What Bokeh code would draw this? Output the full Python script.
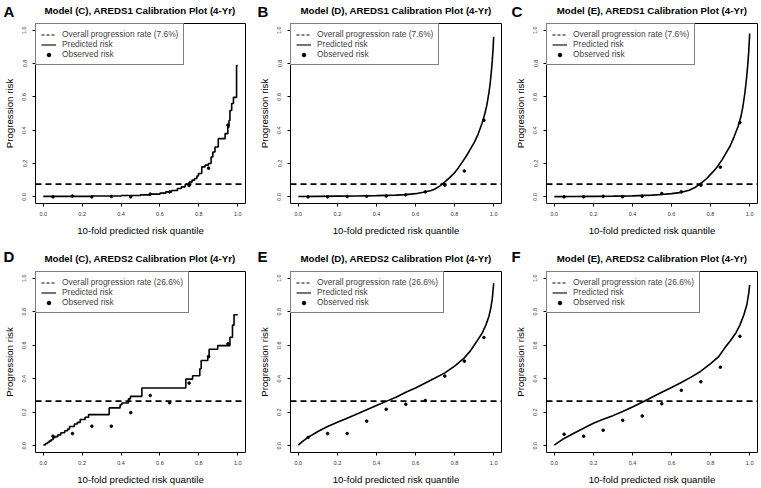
from bokeh.plotting import figure
from bokeh.layouts import column, row
from bokeh.models import Span, Legend, LegendItem, FixedTicker, NumeralTickFormatter
from bokeh.core.properties import value
from bokeh.embed import file_html
from bokeh.resources import INLINE

FONT = "Liberation Sans"
NAN = float("nan")

# ---------------- data ----------------
tick_vals = [0.0, 0.2, 0.4, 0.6, 0.8, 1.0]
tick_labels = ["0.0", "0.2", "0.4", "0.6", "0.8", "1.0"]
deciles = [0.05, 0.15, 0.25, 0.35, 0.45, 0.55, 0.65, 0.75, 0.85, 0.95]

letters = ["A", "B", "C", "D", "E", "F"]
titles = [
    "Model (C), AREDS1 Calibration Plot (4-Yr)",
    "Model (D), AREDS1 Calibration Plot (4-Yr)",
    "Model (E), AREDS1 Calibration Plot (4-Yr)",
    "Model (C), AREDS2 Calibration Plot (4-Yr)",
    "Model (D), AREDS2 Calibration Plot (4-Yr)",
    "Model (E), AREDS2 Calibration Plot (4-Yr)",
]
overall_rate = [0.076, 0.076, 0.076, 0.266, 0.266, 0.266]
rate_labels = ["Overall progression rate (7.6%)"] * 3 + ["Overall progression rate (26.6%)"] * 3

# Panel A: Model (C), AREDS1 - step function
a_step_x = [0.00, 0.25, 0.40, 0.50, 0.55, 0.60, 0.63, 0.66, 0.69, 0.71, 0.73, 0.75, 0.765, 0.778,
            0.79, 0.798, 0.815, 0.832, 0.849, 0.863, 0.872, 0.883, 0.90, 0.935, 0.949, 0.955, 0.960,
            0.969, 0.978, 0.994, 1.0]
a_step_y = [0.003, 0.005, 0.008, 0.012, 0.016, 0.022, 0.030, 0.038, 0.050, 0.060, 0.075, 0.088, 0.100, 0.110,
            0.125, 0.140, 0.180, 0.190, 0.200, 0.239, 0.269, 0.299, 0.349, 0.379, 0.418, 0.458, 0.518,
            0.560, 0.597, 0.787, 0.787]
a_obs = [0.000, 0.005, 0.000, 0.002, 0.000, 0.016, 0.030, 0.068, 0.172, 0.430]

# Panel B: Model (D), AREDS1 - smooth curve
b_x = [0.0, 0.1, 0.2, 0.3, 0.4, 0.5, 0.55, 0.6, 0.64, 0.68, 0.70, 0.725, 0.75, 0.775, 0.80, 0.82, 0.84,
       0.86, 0.88, 0.90, 0.92, 0.94, 0.955, 0.965, 0.975, 0.982, 0.988, 0.993, 0.997, 1.0]
b_y = [0.002, 0.003, 0.004, 0.005, 0.007, 0.010, 0.013, 0.019, 0.027, 0.038, 0.047, 0.066, 0.090, 0.115,
       0.145, 0.175, 0.210, 0.245, 0.285, 0.325, 0.375, 0.440, 0.500, 0.550, 0.620, 0.680, 0.750, 0.820,
       0.890, 0.960]
b_obs = [0.000, 0.000, 0.002, 0.003, 0.005, 0.012, 0.030, 0.070, 0.155, 0.460]

# Panel C: Model (E), AREDS1 - smooth curve
c_x = [0.0, 0.1, 0.2, 0.3, 0.4, 0.5, 0.55, 0.6, 0.65, 0.69, 0.72, 0.74, 0.76, 0.78, 0.80, 0.82, 0.84,
       0.86, 0.88, 0.90, 0.92, 0.94, 0.955, 0.965, 0.975, 0.983, 0.99, 0.995, 1.0]
c_y = [0.001, 0.002, 0.003, 0.004, 0.006, 0.010, 0.014, 0.019, 0.027, 0.040, 0.056, 0.073, 0.090, 0.110,
       0.135, 0.160, 0.190, 0.225, 0.265, 0.305, 0.360, 0.420, 0.480, 0.540, 0.620, 0.700, 0.790, 0.870,
       0.980]
c_obs = [0.000, 0.000, 0.003, 0.001, 0.004, 0.020, 0.030, 0.070, 0.178, 0.445]

# Panel D: Model (C), AREDS2 - step function
d_step_x = [0.00, 0.01, 0.02, 0.03, 0.04, 0.05, 0.06, 0.075, 0.09, 0.11, 0.125, 0.135, 0.16, 0.175, 0.19,
            0.215, 0.233, 0.339, 0.395, 0.404, 0.438, 0.448, 0.507, 0.733, 0.768, 0.805, 0.812, 0.846,
            0.853, 0.897, 0.960, 0.973, 0.981, 1.0]
d_step_y = [0.005, 0.012, 0.020, 0.028, 0.036, 0.048, 0.055, 0.065, 0.078, 0.090, 0.100, 0.115, 0.130, 0.140,
            0.157, 0.170, 0.186, 0.226, 0.245, 0.255, 0.280, 0.295, 0.345, 0.398, 0.418, 0.460, 0.509, 0.532,
            0.576, 0.598, 0.648, 0.720, 0.782, 0.782]
d_obs = [0.057, 0.073, 0.117, 0.117, 0.198, 0.300, 0.257, 0.374, 0.533, 0.608]

# Panel E: Model (D), AREDS2 - smooth curve
e_x = [0.0, 0.02, 0.05, 0.1, 0.15, 0.2, 0.25, 0.3, 0.35, 0.4, 0.45, 0.5, 0.55, 0.6, 0.65, 0.7, 0.75, 0.8,
       0.85, 0.88, 0.9, 0.92, 0.94, 0.96, 0.975, 0.985, 0.993, 1.0]
e_y = [0.004, 0.025, 0.050, 0.085, 0.115, 0.140, 0.165, 0.190, 0.215, 0.240, 0.265, 0.290, 0.320, 0.345,
       0.375, 0.405, 0.435, 0.475, 0.525, 0.565, 0.600, 0.635, 0.670, 0.720, 0.770, 0.820, 0.880, 0.970]
e_obs = [0.050, 0.073, 0.073, 0.147, 0.218, 0.248, 0.270, 0.416, 0.505, 0.646]

# Panel F: Model (E), AREDS2 - smooth curve
f_x = [0.0, 0.02, 0.05, 0.1, 0.15, 0.2, 0.25, 0.3, 0.35, 0.4, 0.45, 0.5, 0.55, 0.6, 0.65, 0.7, 0.75, 0.8,
       0.84, 0.87, 0.9, 0.93, 0.95, 0.97, 0.985, 0.995, 1.0]
f_y = [0.004, 0.020, 0.044, 0.075, 0.105, 0.135, 0.158, 0.180, 0.205, 0.232, 0.260, 0.290, 0.320, 0.348,
       0.378, 0.410, 0.445, 0.490, 0.530, 0.580, 0.625, 0.675, 0.720, 0.780, 0.840, 0.910, 0.960]
f_obs = [0.069, 0.057, 0.093, 0.152, 0.178, 0.251, 0.331, 0.382, 0.469, 0.653]

curves = [
    ("step", a_step_x, a_step_y, a_obs),
    ("line", b_x, b_y, b_obs),
    ("line", c_x, c_y, c_obs),
    ("step", d_step_x, d_step_y, d_obs),
    ("line", e_x, e_y, e_obs),
    ("line", f_x, f_y, f_obs),
]

# ---------------- layout ----------------
FW = 211
col_borders = [(34, 9), (36, 7), (38, 3)]
row_borders = [(1, 41), (1, 34)]
frame_h = [180, 182]
header_h = [22, 26]
title_mid = [12.0, 12.0]     # text middle, measured from header bottom
letter_mid = [11.0, 14.5]
letter_dx = [-31, -33, -35]

col_w = [L + FW + R for (L, R) in col_borders]
col_start = [sum(col_w[:k]) for k in range(3)]
TOTAL_W = sum(col_w)


def make_header(r):
    h = header_h[r]
    p = figure(width=TOTAL_W, height=h, x_range=(0, TOTAL_W), y_range=(0, h),
               output_backend="svg", toolbar_location=None, title_location=None,
               x_axis_type=None, y_axis_type=None,
               min_border_left=0, min_border_right=0, min_border_top=0, min_border_bottom=0)
    p.outline_line_color = None
    p.grid.visible = False
    p.background_fill_color = "white"
    p.border_fill_color = "white"
    cx = [col_start[c] + col_borders[c][0] + FW / 2 for c in range(3)]
    lx = [max(3, col_start[c] + col_borders[c][0] + letter_dx[c]) for c in range(3)]
    p.text(x=cx, y=[title_mid[r]] * 3, text=titles[3 * r:3 * r + 3],
           text_align="center", text_baseline="middle",
           text_font=value(FONT), text_font_size=value("9.7px"), text_font_style="bold",
           text_color="black")
    p.text(x=lx, y=[letter_mid[r]] * 3, text=letters[3 * r:3 * r + 3],
           text_align="left", text_baseline="middle",
           text_font=value(FONT), text_font_size=value("15px"), text_font_style="bold",
           text_color="black")
    return p


def make_panel(i):
    r, col = divmod(i, 3)
    L, R = col_borders[col]
    T, B = row_borders[r]
    FH = frame_h[r]
    kind, xs, ys, obs = curves[i]
    p = figure(width=L + FW + R, height=T + FH + B,
               x_range=(-0.04, 1.04), y_range=(-0.04, 1.04),
               output_backend="svg", toolbar_location=None, title_location=None,
               min_border_left=L, min_border_right=R,
               min_border_top=T, min_border_bottom=B)
    p.background_fill_color = "white"
    p.border_fill_color = "white"
    p.outline_line_color = "black"
    p.outline_line_width = 1
    p.outline_line_alpha = 1
    p.xgrid.visible = False
    p.ygrid.visible = False

    for ax in (p.xaxis[0], p.yaxis[0]):
        ax.ticker = FixedTicker(ticks=tick_vals)
        ax.formatter = NumeralTickFormatter(format="0.0")
        ax.major_label_overrides = {v: s for v, s in zip(tick_vals, tick_labels)}
        ax.bounds = (0, 1)
        ax.major_tick_out = 3
        ax.major_tick_in = 0
        ax.minor_tick_line_color = None
        ax.axis_line_color = "black"
        ax.major_tick_line_color = "black"
        ax.major_label_text_font = FONT
        ax.major_label_text_font_size = "5.5px"
        ax.major_label_text_color = "#333333"
        ax.axis_label_text_font = FONT
        ax.axis_label_text_font_size = "9.7px"
        ax.axis_label_text_font_style = "normal"
        ax.axis_label_text_color = "black"
    p.xaxis.axis_label = "10-fold predicted risk quantile"
    p.xaxis.major_label_standoff = 5
    p.xaxis.axis_label_standoff = 6
    p.yaxis.axis_label = "Progression risk"
    p.yaxis.major_label_orientation = "vertical"
    p.yaxis.major_label_standoff = 6
    p.yaxis.axis_label_standoff = 5

    # overall progression rate
    p.add_layout(Span(location=overall_rate[i], dimension="width", line_color="black",
                      line_width=1.8, line_dash="6 4"))
    # predicted risk
    if kind == "step":
        p.step(xs, ys, mode="after", line_color="black", line_width=1.6)
    else:
        p.line(xs, ys, line_color="black", line_width=1.6)
    # observed risk
    p.scatter(deciles, obs, size=2.6, color="black")

    # legend proxies (not drawn in the frame: NaN coordinates)
    r_rate = p.line([NAN, NAN], [NAN, NAN], line_color="black", line_width=1, line_dash="3 2")
    r_pred = p.line([NAN, NAN], [NAN, NAN], line_color="black", line_width=1.1)
    r_obs = p.scatter([NAN], [NAN], size=4, color="black")
    legend = Legend(items=[LegendItem(label=rate_labels[i], renderers=[r_rate]),
                           LegendItem(label="Predicted risk", renderers=[r_pred]),
                           LegendItem(label="Observed risk", renderers=[r_obs])],
                    location="top_left", margin=0, padding=5, spacing=0,
                    glyph_width=15, glyph_height=9, label_height=9, label_standoff=6,
                    label_text_font=FONT, label_text_font_size="8.4px",
                    border_line_color="black", border_line_width=1,
                    background_fill_color="white", background_fill_alpha=1)
    p.add_layout(legend)
    return p


panels = [make_panel(i) for i in range(6)]
layout = column(
    make_header(0),
    row(*panels[0:3]),
    make_header(1),
    row(*panels[3:6]),
)

open("out.html", "w").write(file_html(layout, INLINE))
